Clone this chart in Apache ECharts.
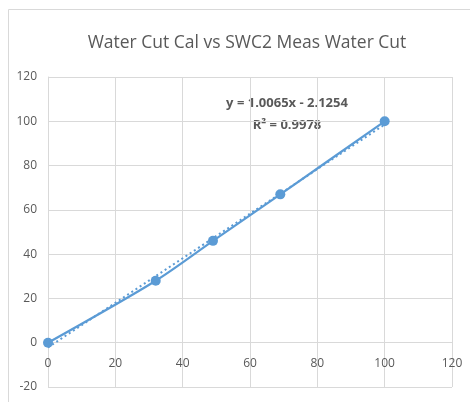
<!DOCTYPE html>
<html><head><meta charset="utf-8">
<script src="https://cdn.jsdelivr.net/npm/echarts@6/dist/echarts.min.js"></script>
<style>html,body{margin:0;padding:0;background:#fff}#c{width:470px;height:402px}</style>
</head><body><div id="c"></div>
<script>
const titleText = 'Water Cut Cal vs SWC2 Meas Water Cut';
const measX = [0, 32, 49, 69, 100];
const calY = [0, 28, 46, 67, 100];
const trendSlope = 1.0065;
const trendIntercept = -2.1254;
const rSquared = '0.9978';
const xTicks = [0, 20, 40, 60, 80, 100, 120];
const yTicks = [-20, 0, 20, 40, 60, 80, 100, 120];

const font = '"Open Sans", sans-serif';
const blue = '#5B9BD5';
const grey = '#595959';
const points = measX.map((x, i) => [x, calY[i]]);
const tx0 = measX[0], tx1 = measX[measX.length - 1];
const trend = [[tx0, trendSlope * tx0 + trendIntercept], [tx1, trendSlope * tx1 + trendIntercept]];

const gridTop = 77, gridBottomPx = 387;
const zeroOffset = (gridBottomPx - gridTop) * (0 - yTicks[0]) / (yTicks[yTicks.length - 1] - yTicks[0]);

const chart = echarts.init(document.getElementById('c'), null, {renderer: 'canvas'});
chart.setOption({
  animation: false,
  title: {text: titleText, left: 242, top: 29, textAlign: 'center',
    textStyle: {fontFamily: font, fontSize: 17.5, fontWeight: 'normal', color: grey}},
  graphic: [
    {type: 'rect', shape: {x: 8.5, y: 9.5, width: 470, height: 400}, style: {fill: 'none', stroke: '#d9d9d9', lineWidth: 1}, z: -1},
    {type: 'text', x: 287, y: 103, style: {text: 'y = ' + trendSlope.toFixed(4) + 'x - ' + Math.abs(trendIntercept).toFixed(4), fontFamily: font, fontSize: 13, fontWeight: 'bold', fill: grey, align: 'center', verticalAlign: 'middle'}},
    {type: 'text', x: 287, y: 125, style: {text: 'R² = ' + rSquared, fontFamily: font, fontSize: 13, fontWeight: 'bold', fill: grey, align: 'center', verticalAlign: 'middle'}}
  ],
  grid: {left: 48, right: 18, top: gridTop, bottom: 402 - gridBottomPx, containLabel: false, outerBoundsMode: 'none'},
  xAxis: {type: 'value', min: xTicks[0], max: xTicks[xTicks.length - 1], interval: 20,
    offset: -zeroOffset,
    axisLine: {onZero: false, lineStyle: {color: '#d9d9d9', width: 1}},
    axisTick: {show: false},
    axisLabel: {fontFamily: font, fontSize: 12, color: grey, margin: 15},
    splitLine: {lineStyle: {color: '#d9d9d9', width: 1}}},
  yAxis: {type: 'value', min: yTicks[0], max: yTicks[yTicks.length - 1], interval: 20,
    axisLine: {show: true, onZero: false, lineStyle: {color: '#d9d9d9', width: 1}},
    axisTick: {show: false},
    axisLabel: {fontFamily: font, fontSize: 12, color: grey, margin: 11},
    splitLine: {lineStyle: {color: '#d9d9d9', width: 1}}},
  series: [
    {type: 'line', data: trend, symbol: 'none', lineStyle: {color: blue, width: 2, type: [2, 3]}, z: 2},
    {type: 'line', data: points, smooth: 0.3, symbol: 'circle', symbolSize: 10,
      itemStyle: {color: blue}, lineStyle: {color: blue, width: 2.2}, z: 3}
  ]
});
</script></body></html>
